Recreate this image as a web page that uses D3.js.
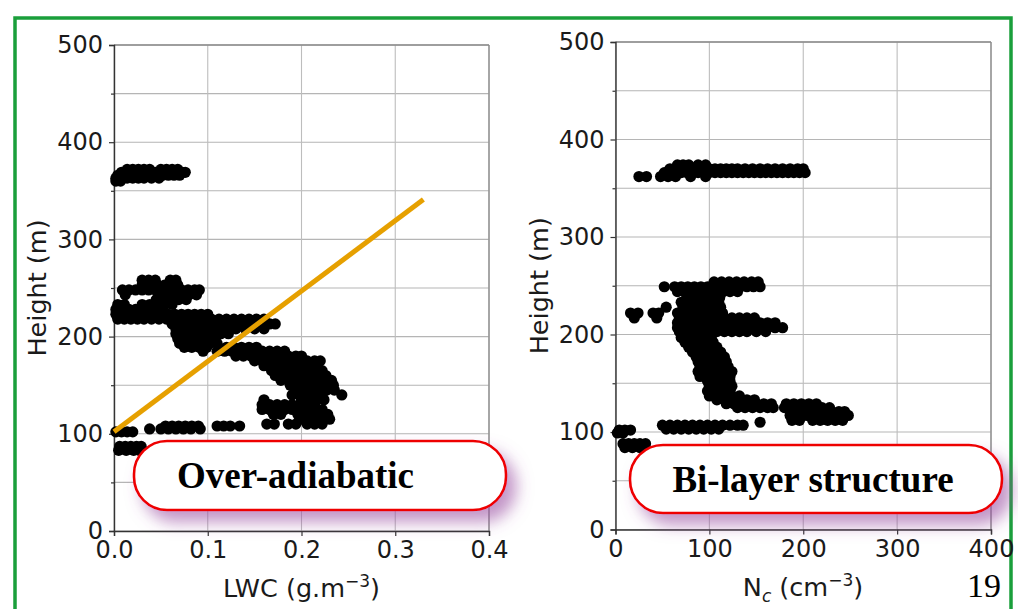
<!DOCTYPE html>
<html><head><meta charset="utf-8">
<script src="https://cdn.jsdelivr.net/npm/d3@7"></script>
<style>
body{margin:0;background:#fff;}
svg{display:block;}
</style></head><body>
<svg id="c" width="1018" height="609"></svg>
<script>
// ---------- data ----------
const lwcTicks = [0, 0.1, 0.2, 0.3, 0.4];
const lwcTickLabels = ["0.0", "0.1", "0.2", "0.3", "0.4"];
const ncTicks = [0, 100, 200, 300, 400];
const ncTickLabels = ["0", "100", "200", "300", "400"];
const heightTicks = [0, 100, 200, 300, 400, 500];
const heightMinorTicks = [50, 150, 250, 350, 450];
const adiabatLwc = [0, 0.33];
const adiabatHeight = [102, 341];
const calloutTexts = ["Over-adiabatic", "Bi-layer structure"];
const pageNumber = "19";

// LWC profile: [height (m), [LWC values (g/m3)]]
const lwcProfile = [
  [372, [0.014, 0.02, 0.026, 0.032, 0.038, 0.05, 0.056, 0.062, 0.068]],
  [369, [0.008, 0.014, 0.02, 0.026, 0.032, 0.038, 0.044, 0.05, 0.056, 0.062, 0.068, 0.073, 0.076]],
  [366, [0.004, 0.01, 0.016, 0.022, 0.028, 0.034, 0.04, 0.046, 0.052, 0.058, 0.064, 0.07]],
  [363, [0.002, 0.008, 0.014, 0.02, 0.026, 0.032, 0.04, 0.048]],
  [360, [0.002, 0.007]],
  [258, [0.03, 0.037, 0.044, 0.06, 0.066]],
  [253, [0.03, 0.038, 0.046, 0.054, 0.062, 0.068]],
  [248, [0.009, 0.016, 0.023, 0.03, 0.037, 0.044, 0.051, 0.058, 0.065, 0.072, 0.079, 0.086, 0.091]],
  [243, [0.012, 0.048, 0.056, 0.064, 0.072, 0.08, 0.088]],
  [238, [0.045, 0.053, 0.061, 0.069, 0.077]],
  [233, [0.004, 0.011, 0.03, 0.038, 0.046, 0.054, 0.062]],
  [228, [0.002, 0.009, 0.016, 0.023, 0.03, 0.037, 0.044, 0.051]],
  [223, [0.002, 0.009, 0.016, 0.023, 0.03, 0.037, 0.044, 0.051, 0.058, 0.065, 0.072, 0.079, 0.086, 0.093, 0.1]],
  [218, [0.004, 0.011, 0.018, 0.025, 0.032, 0.04, 0.048, 0.056, 0.064, 0.072, 0.08, 0.088, 0.096, 0.104, 0.112, 0.12, 0.128, 0.136, 0.144, 0.152, 0.16]],
  [213, [0.062, 0.07, 0.078, 0.086, 0.094, 0.102, 0.11, 0.118, 0.126, 0.134, 0.142, 0.15, 0.158, 0.166, 0.172]],
  [208, [0.066, 0.074, 0.082, 0.09, 0.098, 0.106, 0.114, 0.122, 0.13, 0.14, 0.15, 0.16]],
  [203, [0.066, 0.074, 0.082, 0.09, 0.098, 0.106, 0.114, 0.122]],
  [198, [0.068, 0.076, 0.084, 0.092, 0.1, 0.108]],
  [193, [0.07, 0.078, 0.086, 0.094, 0.102, 0.11]],
  [189, [0.075, 0.083, 0.091, 0.099, 0.12, 0.128, 0.136, 0.144, 0.152]],
  [185, [0.095, 0.11, 0.118, 0.126, 0.134, 0.142, 0.15, 0.158, 0.166, 0.174, 0.182]],
  [180, [0.13, 0.138, 0.146, 0.154, 0.162, 0.17, 0.178, 0.186, 0.194, 0.2]],
  [175, [0.15, 0.158, 0.166, 0.174, 0.182, 0.19, 0.198, 0.206, 0.214, 0.22]],
  [170, [0.16, 0.168, 0.176, 0.184, 0.192, 0.2, 0.208, 0.216]],
  [165, [0.168, 0.176, 0.184, 0.192, 0.2, 0.208, 0.216, 0.222]],
  [160, [0.172, 0.18, 0.188, 0.196, 0.204, 0.212, 0.22, 0.226]],
  [155, [0.178, 0.186, 0.194, 0.202, 0.21, 0.218, 0.226, 0.232]],
  [150, [0.188, 0.196, 0.204, 0.212, 0.22, 0.228, 0.234]],
  [145, [0.195, 0.203, 0.211, 0.219, 0.227, 0.235]],
  [140, [0.19, 0.198, 0.206, 0.214, 0.222, 0.243]],
  [135, [0.16, 0.2, 0.208, 0.216, 0.224]],
  [130, [0.158, 0.166, 0.174, 0.182, 0.19, 0.198, 0.206, 0.214]],
  [125, [0.158, 0.166, 0.174, 0.182, 0.19, 0.198, 0.206, 0.214, 0.222]],
  [120, [0.17, 0.178, 0.196, 0.204, 0.212, 0.22, 0.228]],
  [115, [0.2, 0.208, 0.216, 0.224, 0.23]],
  [110, [0.163, 0.171, 0.186, 0.194, 0.206, 0.214, 0.222]],
  [108, [0.055, 0.062, 0.069, 0.076, 0.083, 0.09, 0.11, 0.117, 0.124, 0.134]],
  [105, [0.038, 0.05, 0.058, 0.066, 0.074, 0.082, 0.092]],
  [102, [0.002, 0.008, 0.014, 0.02]],
  [87, [0.006, 0.012, 0.018, 0.024, 0.029]],
  [83, [0.005, 0.013, 0.021, 0.027]]
];

// Nc profile: [height (m), [Nc values (cm-3)]]
const ncProfile = [
  [374, [66, 72, 78, 88, 96]],
  [370, [58, 64, 70, 76, 82, 88, 94, 100, 106, 112, 118, 124, 130, 138, 146, 154, 162, 170, 178, 186, 194, 200]],
  [366, [52, 58, 64, 70, 76, 82, 88, 94, 100, 106, 112, 118, 124, 130, 136, 142, 148, 154, 160, 166, 172, 178, 184, 190, 196, 202]],
  [362, [25, 33, 48, 56, 64, 80, 96]],
  [254, [105, 113, 121, 129, 137, 145, 152]],
  [249, [52, 63, 70, 77, 84, 91, 98, 105, 112, 119, 126, 133, 140, 147, 154]],
  [244, [66, 73, 80, 87, 94, 101, 108, 115, 122, 130]],
  [238, [76, 83, 90, 97, 104, 111]],
  [233, [70, 78, 86, 94, 102, 110]],
  [228, [54, 72, 80, 88, 96, 104, 112]],
  [222, [16, 24, 40, 46, 66, 74, 82, 90, 98, 106, 114]],
  [217, [20, 44, 68, 76, 84, 92, 100, 108, 116, 124, 132, 140, 148]],
  [212, [66, 74, 82, 90, 98, 106, 114, 122, 130, 138, 146, 154, 162, 170]],
  [207, [66, 74, 82, 90, 98, 106, 114, 122, 130, 138, 146, 154, 162, 170, 178]],
  [203, [68, 76, 84, 92, 100, 108, 116, 124, 132, 140, 150, 160]],
  [197, [70, 78, 86, 94, 102]],
  [192, [74, 82, 90, 98, 104]],
  [187, [78, 86, 94, 102, 108]],
  [182, [82, 90, 98, 106, 112]],
  [177, [86, 94, 102, 110, 116]],
  [172, [88, 96, 104, 112, 118]],
  [167, [90, 98, 106, 114, 120]],
  [162, [88, 96, 104, 112, 120, 124]],
  [157, [90, 98, 106, 114, 122]],
  [152, [98, 106, 114, 122]],
  [147, [100, 108, 116, 124]],
  [142, [98, 106, 114, 122]],
  [137, [100, 108, 116, 124, 132]],
  [133, [108, 116, 124, 132, 140, 148]],
  [129, [118, 126, 134, 142, 150, 158, 166, 182, 190, 198, 206, 214]],
  [125, [130, 138, 146, 154, 162, 168, 180, 188, 196, 204, 212, 220, 228]],
  [121, [190, 198, 206, 214, 222, 230, 238, 244]],
  [117, [186, 196, 204, 212, 220, 228, 236, 244, 248]],
  [112, [188, 196, 210, 218, 226, 234, 242]],
  [110, [154]],
  [107, [50, 58, 66, 74, 82, 90, 98, 106, 114, 122, 130, 136]],
  [103, [54, 62, 70, 78, 86, 94, 102, 110]],
  [102, [4, 10, 16]],
  [99, [2, 8]],
  [88, [8, 14, 20, 26, 32]],
  [84, [10, 18, 26]]
];

// ---------- drawing ----------
const svg = d3.select("#c");
const defs = svg.append("defs");
const f = defs.append("filter").attr("id", "glow").attr("x", "-20%").attr("y", "-40%").attr("width", "140%").attr("height", "190%");
f.append("feOffset").attr("in", "SourceAlpha").attr("dx", 9).attr("dy", 11).attr("result", "o");
f.append("feGaussianBlur").attr("in", "o").attr("stdDeviation", 8).attr("result", "b");
f.append("feFlood").attr("flood-color", "#9a4fa2").attr("flood-opacity", 0.6).attr("result", "c");
f.append("feComposite").attr("in", "c").attr("in2", "b").attr("operator", "in").attr("result", "s");
const fm = f.append("feMerge");
fm.append("feMergeNode").attr("in", "s");
fm.append("feMergeNode").attr("in", "SourceGraphic");

// green slide frame
svg.append("rect").attr("x", 15).attr("y", 18).attr("width", 996).attr("height", 620)
  .attr("fill", "none").attr("stroke", "#1a9f3b").attr("stroke-width", 3.5);

function drawPanel(xScale, yScale, xTicks, xLabels, profile, labelX) {
  const g = svg.append("g");
  const [x0, x1] = xScale.range();
  const [y0, y1] = yScale.range();
  g.selectAll(".hg").data(heightTicks.concat(heightMinorTicks)).join("line")
    .attr("x1", x0).attr("x2", x1).attr("y1", d => yScale(d)).attr("y2", d => yScale(d))
    .attr("stroke", "#b5b5b5").attr("stroke-width", 1.1);
  g.selectAll(".vg").data(xTicks).join("line")
    .attr("y1", y0).attr("y2", y1).attr("x1", d => xScale(d)).attr("x2", d => xScale(d))
    .attr("stroke", "#bdbdbd").attr("stroke-width", 1.1);
  g.append("line").attr("x1", x0).attr("x2", x1).attr("y1", y1).attr("y2", y1).attr("stroke", "#8a8a8a").attr("stroke-width", 1.3);
  g.append("line").attr("x1", x1).attr("x2", x1).attr("y1", y0).attr("y2", y1).attr("stroke", "#8a8a8a").attr("stroke-width", 1.3);
  const ya = g.append("g").attr("transform", `translate(${x0},0)`)
    .call(d3.axisLeft(yScale).tickValues(heightTicks).tickSize(5).tickPadding(6).tickFormat(d3.format("d")));
  const yMinor = g.append("g").attr("transform", `translate(${x0},0)`)
    .call(d3.axisLeft(yScale).tickValues(heightMinorTicks).tickSize(3).tickFormat(""));
  yMinor.select(".domain").remove();
  const xa = g.append("g").attr("transform", `translate(0,${y0})`)
    .call(d3.axisBottom(xScale).tickValues(xTicks).tickSize(5).tickPadding(5).tickFormat((d, i) => xLabels[i]));
  [ya, xa, yMinor].forEach(a => {
    a.selectAll(".domain").attr("stroke", "#333").attr("stroke-width", 1.4);
    a.selectAll(".tick line").attr("stroke", "#333").attr("stroke-width", 1.2);
    a.selectAll(".tick text").attr("font-family", "DejaVu Sans").attr("font-size", 24).attr("fill", "#1a1a1a");
  });
  const pts = [];
  profile.forEach(([h, vals]) => vals.forEach(v => pts.push([v, h])));
  g.selectAll(".pt").data(pts).join("circle")
    .attr("cx", d => xScale(d[0])).attr("cy", d => yScale(d[1])).attr("r", 5.6).attr("fill", "#000");
  g.append("text").attr("transform", `translate(${labelX},${(y0 + y1) / 2}) rotate(-90)`)
    .attr("text-anchor", "middle").attr("dy", "0.35em")
    .attr("font-family", "DejaVu Sans").attr("font-size", 25.5).attr("fill", "#1a1a1a")
    .text("Height (m)");
  return g;
}

const xL = d3.scaleLinear().domain([0, 0.4]).range([114, 489]);
const yL = d3.scaleLinear().domain([0, 500]).range([531, 45]);
const xR = d3.scaleLinear().domain([0, 400]).range([615.5, 991]);
const yR = d3.scaleLinear().domain([0, 500]).range([529.5, 42]);

const gL = drawPanel(xL, yL, lwcTicks, lwcTickLabels, lwcProfile, 37);
const gR = drawPanel(xR, yR, ncTicks, ncTickLabels, ncProfile, 539);

gL.append("path").datum(adiabatLwc.map((v, i) => [v, adiabatHeight[i]]))
  .attr("d", d3.line().x(d => xL(d[0])).y(d => yL(d[1])))
  .attr("stroke", "#e6a000").attr("stroke-width", 5).attr("fill", "none");

const tL = svg.append("text").attr("x", 301.5).attr("y", 597).attr("text-anchor", "middle")
  .attr("font-family", "DejaVu Sans").attr("font-size", 25.5).attr("fill", "#1a1a1a");
tL.append("tspan").text("LWC (g.m");
tL.append("tspan").attr("font-size", 17).attr("dy", -10).text("\u22123");
tL.append("tspan").attr("dy", 10).text(")");

const tR = svg.append("text").attr("x", 803).attr("y", 596).attr("text-anchor", "middle")
  .attr("font-family", "DejaVu Sans").attr("font-size", 25.5).attr("fill", "#1a1a1a");
tR.append("tspan").text("N");
tR.append("tspan").attr("font-size", 17).attr("font-style", "italic").attr("dy", 6).text("c");
tR.append("tspan").attr("dy", -6).text(" (cm");
tR.append("tspan").attr("font-size", 17).attr("dy", -10).text("\u22123");
tR.append("tspan").attr("dy", 10).text(")");

const callouts = [
  {x: 134, y: 441, w: 372, h: 69, tx: 295.5, ty: 488, text: calloutTexts[0]},
  {x: 630, y: 445, w: 372, h: 68, tx: 813, ty: 492, text: calloutTexts[1]}
];
callouts.forEach(c => {
  svg.append("rect").attr("x", c.x).attr("y", c.y).attr("width", c.w).attr("height", c.h)
    .attr("rx", 33).attr("ry", 33).attr("fill", "#fff").attr("stroke", "#ee0000").attr("stroke-width", 2.6)
    .attr("filter", "url(#glow)");
  svg.append("text").attr("x", c.tx).attr("y", c.ty).attr("text-anchor", "middle")
    .attr("font-family", "Liberation Serif").attr("font-weight", "bold").attr("font-size", 37).attr("fill", "#000")
    .text(c.text);
});

svg.append("text").attr("x", 984).attr("y", 597).attr("text-anchor", "middle")
  .attr("font-family", "Liberation Serif").attr("font-size", 34).attr("fill", "#000").text(pageNumber);
</script>
</body></html>
